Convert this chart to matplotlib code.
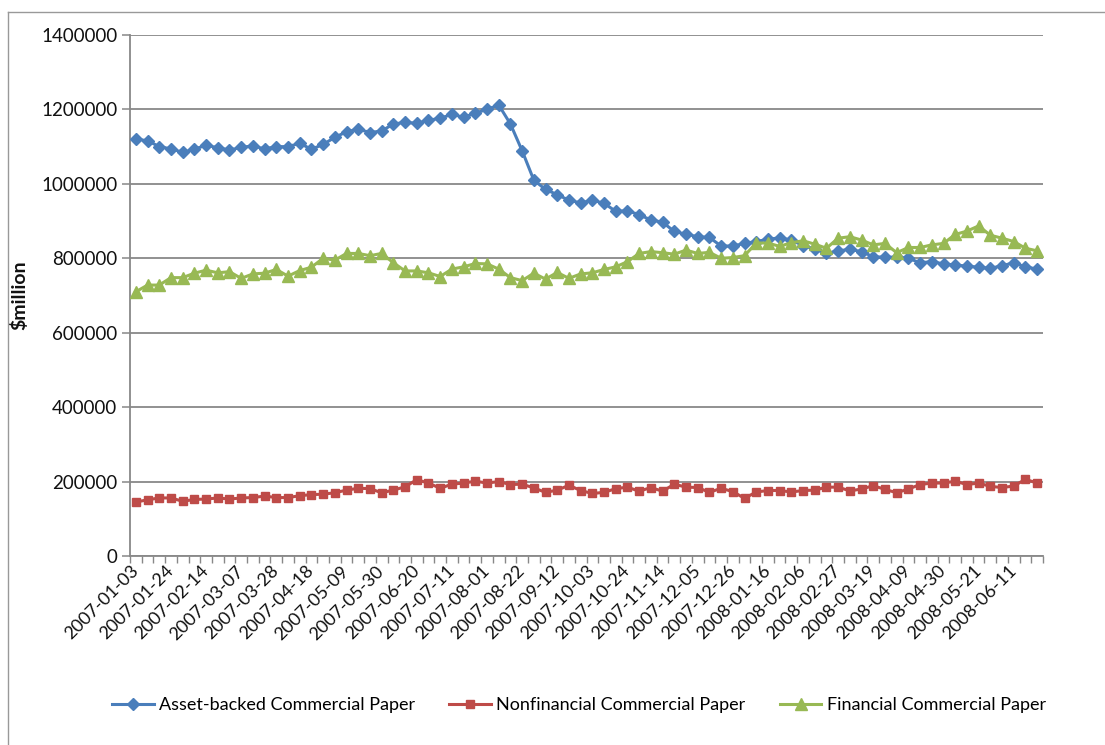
import matplotlib
matplotlib.use("Agg")
import matplotlib.pyplot as plt
import numpy as np
import pandas as pd
from matplotlib.ticker import FixedLocator, FixedFormatter
from matplotlib.lines import Line2D

plt.rcParams['font.family'] = ['Lato', 'DejaVu Sans']

dates = [d.strftime('%Y-%m-%d') for d in pd.date_range('2007-01-03', periods=78, freq='7D')]

abcp = [1120000, 1116000, 1100000, 1094000, 1085000, 1093000, 1104000, 1097000, 1091000, 1098000,
        1102000, 1094000, 1100000, 1100000, 1109000, 1093000, 1106000, 1125000, 1140000, 1147000,
        1138000, 1142000, 1161000, 1165000, 1163000, 1171000, 1176000, 1187000, 1179000, 1190000,
        1200000, 1212000, 1161000, 1089000, 1010000, 985000, 971000, 956000, 949000, 956000,
        948000, 926000, 928000, 917000, 903000, 897000, 872000, 865000, 858000, 856000,
        833000, 833000, 840000, 845000, 851000, 855000, 849000, 834000, 825000, 813000,
        820000, 824000, 818000, 804000, 803000, 803000, 800000, 788000, 791000, 785000,
        782000, 779000, 776000, 773000, 780000, 788000, 777000, 771000]

nfcp = [145000, 151000, 156000, 156000, 147000, 152000, 153000, 156000, 153000, 156000,
        157000, 161000, 157000, 157000, 162000, 165000, 166000, 170000, 177000, 182000,
        181000, 170000, 177000, 186000, 205000, 196000, 182000, 193000, 196000, 201000,
        196000, 200000, 192000, 193000, 183000, 171000, 177000, 190000, 176000, 168000,
        171000, 181000, 185000, 174000, 184000, 174000, 193000, 185000, 184000, 171000,
        182000, 173000, 155000, 172000, 176000, 176000, 172000, 176000, 177000, 185000,
        185000, 175000, 180000, 189000, 179000, 170000, 180000, 192000, 196000, 196000,
        201000, 192000, 196000, 187000, 184000, 188000, 206000, 196000]

fcp = [710000, 728000, 728000, 748000, 748000, 760000, 768000, 761000, 764000, 746000,
       758000, 760000, 770000, 752000, 767000, 776000, 800000, 795000, 813000, 813000,
       807000, 813000, 788000, 766000, 766000, 761000, 751000, 771000, 777000, 786000,
       785000, 771000, 748000, 740000, 760000, 744000, 762000, 746000, 758000, 761000,
       770000, 777000, 791000, 813000, 818000, 815000, 811000, 822000, 813000, 816000,
       800000, 802000, 807000, 841000, 841000, 832000, 842000, 847000, 838000, 827000,
       854000, 858000, 849000, 836000, 840000, 815000, 829000, 829000, 836000, 840000,
       864000, 873000, 887000, 862000, 854000, 845000, 827000, 820000]

series_names = ['Asset-backed Commercial Paper', 'Nonfinancial Commercial Paper',
                'Financial Commercial Paper']
colors = ['#4A7EBB', '#BE4B48', '#98B954']
markers = ['D', 's', '^']
msizes = [6.5, 5.5, 8]

W, H = 1105, 745
fig = plt.figure(figsize=(W / 100, H / 100), dpi=100)
ax = fig.add_axes([130 / W, 1 - 556 / H, (1043 - 130) / W, (556 - 35) / H])

x = np.arange(len(dates))
handles = []
for vals, c, m, ms, name in zip([abcp, nfcp, fcp], colors, markers, msizes, series_names):
    h, = ax.plot(x, vals, color=c, lw=2.2, marker=m, markersize=ms,
                 markeredgecolor=c, markerfacecolor=c, label=name, zorder=3)
    handles.append(h)

ax.set_xlim(-0.5, len(dates) - 0.5)
ax.set_ylim(0, 1400000)
grid_c = '#888888'
ax.set_yticks(np.arange(0, 1400001, 200000))
ax.set_yticklabels([str(v) for v in range(0, 1400001, 200000)], fontsize=13.5, color='#111111')
ax.yaxis.grid(True, color=grid_c, lw=1.3, zorder=0)
ax.tick_params(axis='y', length=6, width=1.1, color=grid_c, pad=3)

major = list(range(0, len(dates), 3))
ax.xaxis.set_major_locator(FixedLocator(major))
ax.xaxis.set_major_formatter(FixedFormatter([dates[i] for i in major]))
ax.xaxis.set_minor_locator(FixedLocator(np.arange(-0.5, len(dates), 1.0)))
ax.tick_params(axis='x', which='major', length=0, pad=9, labelsize=13, labelcolor='#111111')
ax.tick_params(axis='x', which='minor', length=5, width=1.0, color=grid_c)
for lab in ax.get_xticklabels():
    lab.set_rotation(45)
    lab.set_ha('right')
    lab.set_va('center')
    lab.set_rotation_mode('anchor')

for s in ['top', 'right']:
    ax.spines[s].set_visible(False)
for s in ['left', 'bottom']:
    ax.spines[s].set_color(grid_c)
    ax.spines[s].set_linewidth(1.3)

ax.set_ylabel('$million', fontsize=14, fontweight='bold', color='#111111')
ax.yaxis.set_label_coords((28 - 130) / (1043 - 130), 0.5)

fig.legend(handles=handles, loc='center', bbox_to_anchor=(579 / W, 1 - 705 / H), ncol=3,
           frameon=False, fontsize=13, handlelength=2.3, columnspacing=1.9, handletextpad=0.3)

# chart-area border (left and top visible)
fig.add_artist(Line2D([8 / W, 8 / W], [0, 1 - 12 / H], transform=fig.transFigure, color='#999999', lw=1))
fig.add_artist(Line2D([8 / W, 1], [1 - 12 / H, 1 - 12 / H], transform=fig.transFigure, color='#999999', lw=1))

fig.savefig('out.png', dpi=100)
